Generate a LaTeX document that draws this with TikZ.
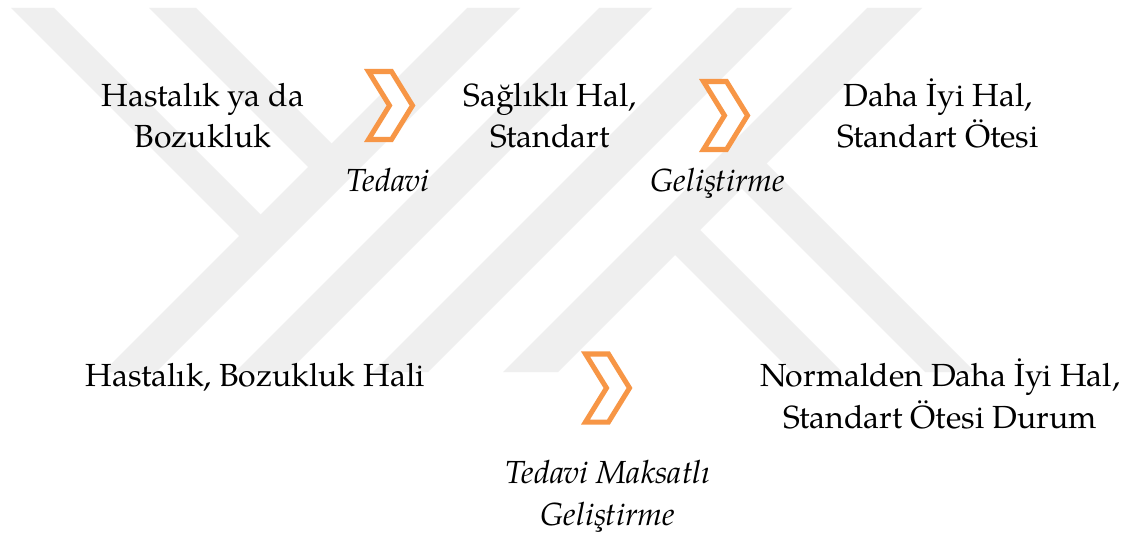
\documentclass[tikz,border=0pt]{standalone}
\usepackage{fontspec}
\setmainfont{texgyrepagella}[Extension=.otf,UprightFont=*-regular,ItalicFont=*-italic,BoldFont=*-bold,BoldItalicFont=*-bolditalic]
\definecolor{chevorange}{HTML}{F79646}
\definecolor{markgray}{HTML}{EFEFEF}

\begin{document}
\begin{tikzpicture}[x=0.02cm,y=0.02cm,
                        state/.style={align=center,anchor=base,font=\fontsize{18.2}{23.9}\selectfont},
                        act/.style={state,font=\fontsize{18.2}{23.9}\selectfont\itshape},
                        band/.style={fill=markgray},
                        chev/.pic={\draw[draw=chevorange,fill=white,line width=2.85pt] (-22,34) -- (1,34) -- (22,0) -- (1,-34) -- (-22,-34) -- (-1,0) -- cycle;}]
                        \useasboundingbox (0,0) rectangle (1131,538);
                        \fill[white] (0,0) rectangle (1131,538);

                                \fill[band] (11,530) -- (54,530) -- (268,316) -- (246.5,294.5) -- cycle;
                                \fill[band] (149,530) -- (196,530) -- (339,387) -- (315.5,363.5) -- cycle;
                                \fill[band] (467,530) -- (520,530) -- (156,166) -- (103,166) -- cycle;
                                \fill[band] (599,530) -- (652,530) -- (288,166) -- (235,166) -- cycle;
                                \fill[band] (737,530) -- (792,530) -- (428,166) -- (373,166) -- cycle;
                                \fill[band] (867,530) -- (922,530) -- (558,166) -- (503,166) -- cycle;
                                \fill[band] (660,298) -- (685,323) -- (842,166) -- (792,166) -- cycle;
                                \fill[band] (726.5,364.5) -- (751.5,389.5) -- (975,166) -- (925,166) -- cycle;

                                \pic at (390.5,432.5) {chev};
                                \pic at (725.5,422.5) {chev};
                                \pic at (607.5,150) {chev};

                                \node[state] (sick) at (203,390) {Hastalık ya da\\Bozukluk};
                                \node[state] (healthy) at (550,390) {Sağlıklı Hal,\\Standart};
                                \node[state] (better) at (938,390) {Daha İyi Hal,\\Standart Ötesi};
                                \node[act] (cure) at (388,346) {Tedavi};
                                \node[act] (improve) at (718,346) {Geliştirme};

                                \node[state] (ill) at (255,152) {Hastalık, Bozukluk Hali};
                                \node[state] (beyond) at (940,110) {Normalden Daha İyi Hal,\\Standart Ötesi Durum};
                                \node[act] (enhance) at (608,13) {Tedavi Maksatlı\\Geliştirme};
                    \end{tikzpicture}
\end{document}
